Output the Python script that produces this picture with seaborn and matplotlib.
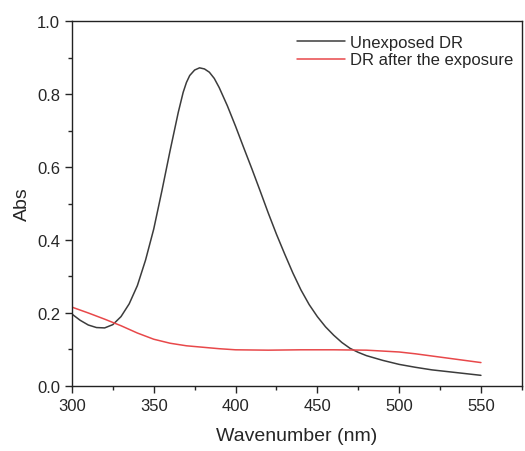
import numpy as np
import pandas as pd
import matplotlib
matplotlib.use("Agg")
import matplotlib.pyplot as plt
import seaborn as sns
from matplotlib.ticker import MultipleLocator

# unexposed DR spectrum
wl_unexposed = [300, 305, 310, 315, 320, 325, 330, 335, 340, 345, 350, 355, 360,
                365, 368, 370, 372, 375, 378, 381, 384, 387, 390, 395, 400, 405,
                410, 415, 420, 425, 430, 435, 440, 445, 450, 455, 460, 465, 470,
                475, 480, 490, 500, 510, 520, 530, 540, 550]
abs_unexposed = [0.197, 0.180, 0.167, 0.160, 0.159, 0.168, 0.190, 0.225, 0.275,
                 0.345, 0.430, 0.535, 0.645, 0.750, 0.805, 0.832, 0.851, 0.866,
                 0.872, 0.869, 0.860, 0.843, 0.818, 0.768, 0.712, 0.653, 0.595,
                 0.535, 0.474, 0.416, 0.362, 0.310, 0.263, 0.223, 0.190, 0.162,
                 0.139, 0.119, 0.103, 0.092, 0.083, 0.070, 0.059, 0.051, 0.044,
                 0.039, 0.034, 0.029]

# DR after the exposure
wl_exposed = [300, 310, 320, 330, 340, 350, 360, 370, 380, 390, 400, 420, 440,
              460, 480, 500, 510, 520, 530, 540, 550]
abs_exposed = [0.216, 0.200, 0.183, 0.165, 0.145, 0.128, 0.117, 0.110, 0.106,
               0.102, 0.099, 0.098, 0.099, 0.099, 0.098, 0.093, 0.088, 0.082,
               0.076, 0.070, 0.064]

labels = ["Unexposed DR", "DR after the exposure"]

sns.set_style("ticks")
plt.rcParams['font.family'] = ['Liberation Sans', 'DejaVu Sans']

fig = plt.figure(figsize=(5.25, 4.52), dpi=100)
ax = fig.add_axes([0.137, 0.144, 0.857, 0.807])

sns.lineplot(x=wl_unexposed, y=abs_unexposed, ax=ax, color='#3c3c3c', lw=1.1, label=labels[0])
sns.lineplot(x=wl_exposed, y=abs_exposed, ax=ax, color='#e8484a', lw=1.1, label=labels[1])

ax.set_xlim(300, 575)
ax.set_ylim(0, 1.0)
ax.xaxis.set_major_locator(MultipleLocator(50))
ax.xaxis.set_minor_locator(MultipleLocator(25))
ax.yaxis.set_major_locator(MultipleLocator(0.2))
ax.yaxis.set_minor_locator(MultipleLocator(0.1))
ax.tick_params(which='major', length=5, width=1, labelsize=12, direction='out')
ax.tick_params(which='minor', length=3, width=1, direction='out')
ax.yaxis.set_major_formatter(matplotlib.ticker.FormatStrFormatter('%.1f'))
for s in ax.spines.values():
    s.set_linewidth(1.0)
    s.set_color('#222222')

ax.set_xlabel('Wavenumber (nm)', fontsize=14, labelpad=10)
ax.set_ylabel('Abs', fontsize=14, labelpad=4)

ax.legend(loc='upper right', bbox_to_anchor=(1.0, 0.985), frameon=False,
          fontsize=12, handlelength=2.9, handletextpad=0.3, borderaxespad=0.1,
          labelspacing=0.15)

fig.savefig('out.png', dpi=100)
